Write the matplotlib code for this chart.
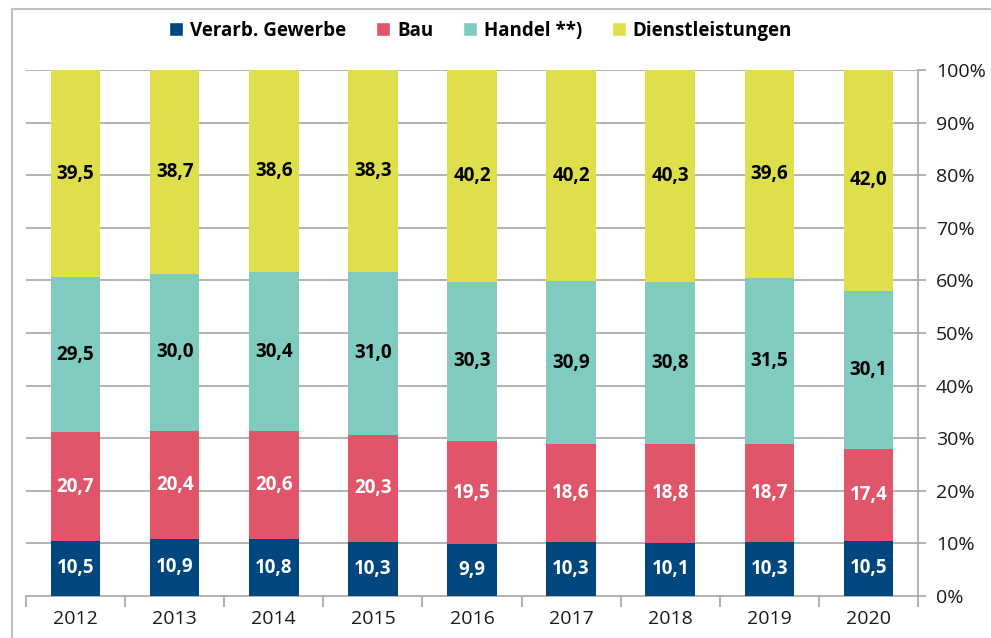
import matplotlib
matplotlib.use("Agg")
import matplotlib.pyplot as plt
import numpy as np
from matplotlib.lines import Line2D

plt.rcParams['font.family'] = ['Open Sans', 'DejaVu Sans']

years = ["2012", "2013", "2014", "2015", "2016", "2017", "2018", "2019", "2020"]
series_names = ["Verarb. Gewerbe", "Bau", "Handel **)", "Dienstleistungen"]
verarb = [10.5, 10.9, 10.8, 10.3, 9.9, 10.3, 10.1, 10.3, 10.5]
bau = [20.7, 20.4, 20.6, 20.3, 19.5, 18.6, 18.8, 18.7, 17.4]
handel = [29.5, 30.0, 30.4, 31.0, 30.3, 30.9, 30.8, 31.5, 30.1]
dienst = [39.5, 38.7, 38.6, 38.3, 40.2, 40.2, 40.3, 39.6, 42.0]
colors = ["#00467F", "#E0556A", "#80CBC0", "#DEDF4B"]
label_colors = ["white", "white", "black", "black"]
yticks = [0, 10, 20, 30, 40, 50, 60, 70, 80, 90, 100]

W, H = 991, 638
fig = plt.figure(figsize=(W / 100, H / 100), dpi=100)
ax = fig.add_axes([26 / W, (H - 596) / H, (918 - 26) / W, (596 - 70) / H])

data = np.array([verarb, bau, handel, dienst])
totals = data.sum(axis=0)
shares = data / totals * 100
x = np.arange(len(years))
bottom = np.zeros(len(years))
for i, name in enumerate(series_names):
    ax.bar(x, shares[i], bottom=bottom, width=0.5, color=colors[i], zorder=3)
    for j in range(len(years)):
        lbl = f"{data[i][j]:.1f}".replace(".", ",")
        ax.text(x[j], bottom[j] + shares[i][j] / 2, lbl, ha="center", va="center",
                color=label_colors[i], fontsize=13.5, fontweight="bold", zorder=4)
    bottom += shares[i]

ax.set_xlim(-0.5, len(years) - 0.5)
ax.set_ylim(0, 100)
grid_color = "#A6A6A6"
for v in yticks[1:]:
    ax.axhline(v, color=grid_color, lw=1.2, zorder=1)

for s in ["left", "top"]:
    ax.spines[s].set_visible(False)
ax.spines["right"].set_color(grid_color)
ax.spines["bottom"].set_color(grid_color)
ax.spines["right"].set_linewidth(1.2)
ax.spines["bottom"].set_linewidth(1.2)

ax.yaxis.tick_right()
ax.set_yticks(yticks)
ax.set_yticklabels([f"{v}%" for v in yticks])
ax.tick_params(axis="y", which="major", length=6, color=grid_color, width=1.2,
               labelsize=14, pad=7, labelcolor="#1a1a1a")
ax.set_xticks(x)
ax.set_xticklabels(years)
ax.tick_params(axis="x", which="major", length=0, labelsize=14, pad=10, labelcolor="#1a1a1a")
ax.set_xticks(np.arange(len(years) + 1) - 0.5, minor=True)
ax.tick_params(axis="x", which="minor", length=8, color=grid_color, width=1.2)

handles = [Line2D([0], [0], marker="s", color="w", markerfacecolor=c, markersize=10, linestyle="None")
           for c in colors]
leg = fig.legend(handles, series_names, loc="center", bbox_to_anchor=(481 / W, 1 - 31 / H),
                 ncol=4, frameon=False, handlelength=0.7, handletextpad=0.4, columnspacing=1.6,
                 prop={"size": 13.5, "weight": "bold"})

# figure border
fig.add_artist(Line2D([12 / W, 12 / W], [0, 1 - 9 / H], color="#BFBFBF", lw=1.5, transform=fig.transFigure))
fig.add_artist(Line2D([12 / W, 1], [1 - 9 / H, 1 - 9 / H], color="#BFBFBF", lw=1.5, transform=fig.transFigure))

fig.savefig("out.png", dpi=100)
